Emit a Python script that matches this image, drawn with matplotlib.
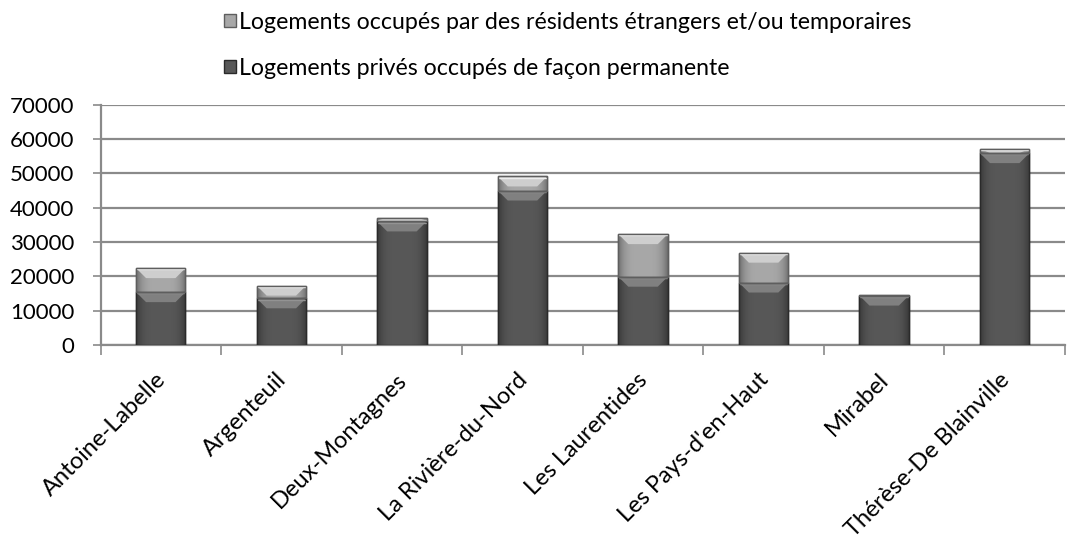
import matplotlib
matplotlib.use('Agg')
import matplotlib.pyplot as plt
import matplotlib.transforms as mtransforms
import numpy as np
from matplotlib.patches import Polygon

categories = ["Antoine-Labelle", "Argenteuil", "Deux-Montagnes", "La Rivière-du-Nord",
              "Les Laurentides", "Les Pays-d'en-Haut", "Mirabel", "Thérèse-De Blainville"]
permanent = [15400, 13600, 36000, 45000, 19900, 18200, 14400, 55900]
temporary = [7000, 3700, 900, 4100, 12400, 8700, 300, 1300]
yticks = [0, 10000, 20000, 30000, 40000, 50000, 60000, 70000]
label_temp = "Logements occupés par des résidents étrangers et/ou temporaires"
label_perm = "Logements privés occupés de façon permanente"

plt.rcParams['font.family'] = ['Lato', 'DejaVu Sans']

W, H = 1067, 539
fig = plt.figure(figsize=(W / 100, H / 100), dpi=100)
ax = fig.add_axes([100.5 / W, 1 - 345 / H, (1065 - 100.5) / W, (345 - 104.7) / H])

x = np.arange(len(categories))
bw = 0.41
perm_col = np.array([0x58, 0x58, 0x58]) / 255
temp_col = np.array([0xa8, 0xa8, 0xa8]) / 255
b1 = ax.bar(x, permanent, bw, color=perm_col, edgecolor='#2a2a2a', lw=1.0, zorder=3)
b2 = ax.bar(x, temporary, bw, bottom=permanent, color=temp_col, edgecolor='#5e5e5e', lw=1.0, zorder=3)

ax.set_xlim(-0.5, len(categories) - 0.5)
ax.set_ylim(0, 70000)

ax_w_px = ax.get_position().width * W
ax_h_px = ax.get_position().height * H
px_x = (len(categories)) / ax_w_px
px_y = 70000 / ax_h_px


def decorate(patch, base, bevel):
    x0, y0 = patch.get_x(), patch.get_y()
    pw, ph = patch.get_width(), patch.get_height()
    n = 60
    t = np.linspace(0, 1, n)
    f = 1.0 - 0.35 * np.abs(2 * t - 1) ** 4
    img = np.clip(base[None, None, :] * f[None, :, None], 0, 1)
    im = ax.imshow(img, extent=[x0, x0 + pw, y0, y0 + ph], aspect='auto',
                   zorder=3.2, interpolation='bilinear')
    im.set_clip_path(patch)
    top = y0 + ph
    dy = min(10 * px_y, ph)
    dx = 10 * px_x
    poly = Polygon([(x0, top), (x0 + pw, top), (x0 + pw - dx, top - dy), (x0 + dx, top - dy)],
                   closed=True, facecolor=bevel, edgecolor='none', zorder=3.4)
    ax.add_patch(poly)
    poly.set_clip_path(patch)
    ax.plot([x0, x0 + pw], [top - 1.2 * px_y, top - 1.2 * px_y], color=np.clip(bevel * 1.15, 0, 1),
            lw=1.0, zorder=3.5, solid_capstyle='butt')
    ax.add_patch(plt.Rectangle((x0, y0), pw, ph, fill=False, edgecolor=patch.get_edgecolor(),
                               lw=1.0, zorder=3.6))


for p in b1:
    decorate(p, perm_col, np.array([0x80, 0x80, 0x80]) / 255)
for p in b2:
    decorate(p, temp_col, np.array([0xce, 0xce, 0xce]) / 255)

ax.set_xlim(-0.5, len(categories) - 0.5)
ax.set_ylim(0, 70000)

grid_col = '#8a8a8a'
ax.set_yticks(yticks)
ax.set_yticklabels([str(v) for v in yticks], fontsize=16)
ax.yaxis.grid(True, color=grid_col, lw=1.6, zorder=0)
ax.set_axisbelow(True)
ax.tick_params(axis='y', length=6, width=1.2, color=grid_col, pad=13)

ax.set_xticks(x)
ax.set_xticklabels(categories, rotation=45, ha='right', va='top', rotation_mode='anchor', fontsize=17)
ax.set_xticks(np.arange(-0.5, len(categories), 1), minor=True)
ax.tick_params(axis='x', which='major', length=0, pad=0)
ax.tick_params(axis='x', which='minor', length=7, width=1.2, color=grid_col)
offset = mtransforms.ScaledTranslation(-6 / 100, -24 / 100, fig.dpi_scale_trans)
for lab in ax.get_xticklabels():
    lab.set_transform(lab.get_transform() + offset)

for s in ['top', 'right']:
    ax.spines[s].set_visible(False)
ax.spines['left'].set_color(grid_col)
ax.spines['bottom'].set_color(grid_col)
ax.spines['left'].set_linewidth(1.6)
ax.spines['bottom'].set_linewidth(1.6)

fig.legend(handles=[b2, b1], labels=[label_temp, label_perm], loc='upper left',
           bbox_to_anchor=(217 / W, 1 - 5 / H), frameon=False, fontsize=16.7,
           handlelength=0.5, handleheight=0.5, handletextpad=0.15, labelspacing=1.08,
           borderaxespad=0, borderpad=0.3)

fig.savefig('out.png', dpi=100)
